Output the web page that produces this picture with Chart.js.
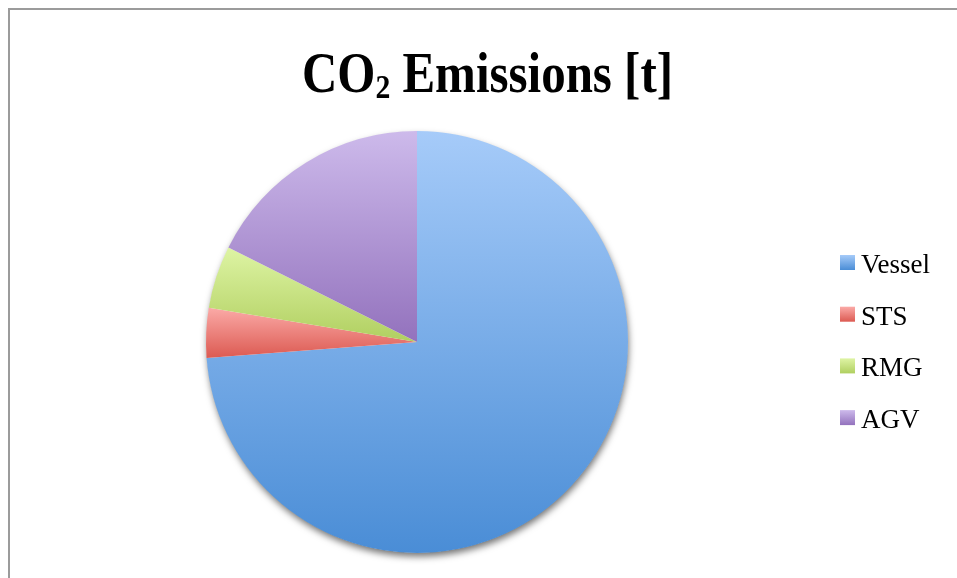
<!DOCTYPE html>
<html>
<head>
<meta charset="utf-8">
<script src="https://cdn.jsdelivr.net/npm/chart.js@4.4.1/dist/chart.umd.min.js"></script>
<style>
  html, body { margin: 0; padding: 0; background: #fff; overflow: hidden; }
  #frame {
    position: absolute; left: 8px; top: 8px; width: 1000px; height: 700px;
    border-left: 2px solid #9b9b9b; border-top: 2px solid #9b9b9b;
  }
  #chartCO2 { position: absolute; left: 0; top: 0; }
</style>
</head>
<body>
<div id="frame"></div>
<canvas id="chartCO2" width="957" height="578"></canvas>
<script>
// ===== DATA =====
const labels = ["Vessel", "STS", "RMG", "AGV"];
const emissions = [73.8, 3.8, 4.8, 17.6];
const topColors = ["#a6cbf9", "#fbaaa7", "#def4a4", "#cdbaeb"];
const bottomColors = ["#4a8dd6", "#dc5a52", "#b0cf60", "#9372bd"];

// per-slice vertical gradient, like the original office chart
function sliceGradient(ctx) {
  const chart = ctx.chart;
  const area = chart.chartArea;
  const i = ctx.dataIndex;
  if (!area) return topColors[i];
  const cx = (area.left + area.right) / 2;
  const cy = (area.top + area.bottom) / 2;
  const r = Math.min(area.right - area.left, area.bottom - area.top) / 2;
  const total = emissions.reduce((a, b) => a + b, 0);
  let cum = 0;
  for (let k = 0; k < i; k++) cum += emissions[k];
  const a0 = -Math.PI / 2 + 2 * Math.PI * cum / total;
  const a1 = a0 + 2 * Math.PI * emissions[i] / total;
  let ys = [cy, cy + r * Math.sin(a0), cy + r * Math.sin(a1)];
  if (a0 <= Math.PI / 2 && a1 >= Math.PI / 2) ys.push(cy + r);
  if (a0 <= -Math.PI / 2 + 1e-6 || a1 >= 3 * Math.PI / 2 - 1e-6) ys.push(cy - r);
  const y0 = Math.min(...ys), y1 = Math.max(...ys);
  const g = chart.ctx.createLinearGradient(0, y0, 0, y1);
  g.addColorStop(0, topColors[i]);
  g.addColorStop(1, bottomColors[i]);
  return g;
}

// ===== SHADOW UNDER THE PIE =====
const pieShadow = {
  id: "pieShadow",
  beforeDatasetsDraw(chart) {
    const arc = chart.getDatasetMeta(0).data[0];
    if (!arc) return;
    const c = chart.ctx;
    c.save();
    c.shadowColor = "rgba(0,0,0,0.55)";
    c.shadowBlur = 7;
    c.shadowOffsetX = 1;
    c.shadowOffsetY = 4;
    c.fillStyle = "#ffffff";
    c.beginPath();
    c.arc(arc.x, arc.y, arc.outerRadius - 0.5, 0, Math.PI * 2);
    c.fill();
    c.restore();
  }
};

// ===== TITLE WITH SUBSCRIPT =====
const titleCO2 = {
  id: "titleCO2",
  afterDraw(chart) {
    const c = chart.ctx;
    const big = "bold 56px 'Liberation Serif', serif";
    const small = "bold 34px 'Liberation Serif', serif";
    c.save();
    c.font = big;
    const w1 = c.measureText("CO").width;
    const w3 = c.measureText(" Emissions [t]").width;
    c.font = small;
    const w2 = c.measureText("2").width;
    const total = w1 + w2 + w3;
    const targetW = 371;
    const sx = targetW / total;
    c.translate(487.5 - targetW / 2, 92);
    c.scale(sx, 1);
    c.fillStyle = "#000";
    c.textBaseline = "alphabetic";
    c.textAlign = "left";
    c.font = big;
    c.fillText("CO", 0, 0);
    c.font = small;
    c.fillText("2", w1, 6);
    c.font = big;
    c.fillText(" Emissions [t]", w1 + w2, 0);
    c.restore();
  }
};

// ===== LEGEND =====
const sideLegend = {
  id: "sideLegend",
  afterDraw(chart) {
    const c = chart.ctx;
    c.save();
    c.font = "27px 'Liberation Serif', serif";
    c.textBaseline = "alphabetic";
    chart.data.labels.forEach((lab, i) => {
      const y = 255 + i * 51.7;
      const g = c.createLinearGradient(0, y, 0, y + 15);
      g.addColorStop(0, topColors[i]);
      g.addColorStop(1, bottomColors[i]);
      c.fillStyle = g;
      c.fillRect(840, y, 15, 15);
      c.fillStyle = "#000";
      c.fillText(lab, 861, y + 18);
    });
    c.restore();
  }
};

// ===== CHART =====
new Chart(document.getElementById("chartCO2"), {
  type: "pie",
  data: {
    labels: labels,
    datasets: [{
      label: "CO2 Emissions [t]",
      data: emissions,
      backgroundColor: sliceGradient,
      borderWidth: 0
    }]
  },
  options: {
    responsive: false,
    animation: false,
    layout: {
      padding: { left: 206, right: 329, top: 131, bottom: 25 }
    },
    plugins: {
      legend: { display: false },
      title: { display: false },
      tooltip: { enabled: false }
    }
  },
  plugins: [pieShadow, titleCO2, sideLegend]
});
</script>
</body>
</html>
